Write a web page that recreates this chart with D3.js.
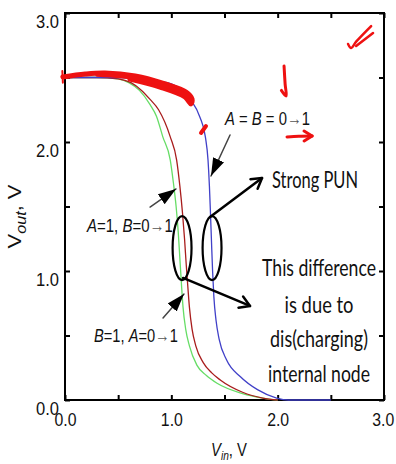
<!DOCTYPE html>
<html>
<head>
<meta charset="utf-8">
<script src="https://cdn.jsdelivr.net/npm/d3@7/dist/d3.min.js"></script>
<style>
  body { margin: 0; background: #fff; }
  text { font-family: 'Liberation Sans', Arial, sans-serif; }
  .callout { font-family: Lato, 'Open Sans', sans-serif; }
</style>
</head>
<body>
<svg id="chart" width="396" height="464"></svg>
<script>
// transfer curves V_out(V_in)
const vinGreen  = [0, 0.3, 0.5, 0.6, 0.7, 0.8, 0.86, 0.92, 0.99, 1.02, 1.045, 1.065, 1.08, 1.095, 1.11, 1.135, 1.17, 1.24, 1.33, 1.43, 1.67, 1.86, 2.0];
const voutGreen = [2.5, 2.5, 2.49, 2.46, 2.4, 2.29, 2.2, 2.04, 1.86, 1.68, 1.5, 1.3, 1.1, 0.9, 0.72, 0.55, 0.42, 0.27, 0.19, 0.13, 0.05, 0.015, 0];
const vinRed    = [0, 0.3, 0.5, 0.62, 0.72, 0.8, 0.88, 0.99, 1.05, 1.08, 1.105, 1.125, 1.14, 1.155, 1.17, 1.195, 1.23, 1.3, 1.38, 1.46, 1.67, 1.86, 2.0];
const voutRed   = [2.5, 2.5, 2.49, 2.46, 2.4, 2.33, 2.25, 2.04, 1.86, 1.66, 1.45, 1.24, 1.05, 0.88, 0.72, 0.55, 0.42, 0.29, 0.21, 0.155, 0.06, 0.015, 0];
const vinBlue   = [0, 0.5, 0.8, 1.0, 1.18, 1.27, 1.32, 1.345, 1.358, 1.368, 1.378, 1.388, 1.4, 1.42, 1.45, 1.52, 1.65, 1.81, 1.99, 2.1, 2.5];
const voutBlue  = [2.5, 2.5, 2.48, 2.45, 2.33, 2.19, 2.04, 1.86, 1.66, 1.45, 1.22, 1.0, 0.8, 0.62, 0.47, 0.31, 0.18, 0.08, 0.015, 0, 0];

const tickValues = [0, 0.5, 1, 1.5, 2, 2.5, 3];
const xTickLabels = ['0.0', '1.0', '2.0', '3.0'];
const yTickLabels = ['0.0', '1.0', '2.0', '3.0'];

const svg = d3.select('#chart');
const width = +svg.attr('width');
const height = +svg.attr('height');
const margin = { top: 13, right: 12, bottom: 64, left: 65 };

const x = d3.scaleLinear().domain([0, 3]).range([margin.left, width - margin.right]);
const y = d3.scaleLinear().domain([0, 3]).range([height - margin.bottom, margin.top]);

svg.append('rect').attr('width', width).attr('height', height).attr('fill', '#fff');

// squeeze a text horizontally to a target width (the slide is compressed sideways)
function squeeze(node, target, x0) {
  const w = node.getComputedTextLength();
  const sx = target / w;
  const prev = node.getAttribute('transform') || '';
  node.setAttribute('transform', `${prev} translate(${x0 * (1 - sx)},0) scale(${sx},1)`);
}

const defs = svg.append('defs');
defs.append('marker')
  .attr('id', 'tri').attr('markerUnits', 'userSpaceOnUse')
  .attr('viewBox', '0 -7 18 14').attr('markerWidth', 18).attr('markerHeight', 14)
  .attr('refX', 18).attr('refY', 0).attr('orient', 'auto')
  .append('path').attr('d', 'M0,-6L18,0L0,6Z').attr('fill', '#000');
defs.append('marker')
  .attr('id', 'chev').attr('markerUnits', 'userSpaceOnUse')
  .attr('viewBox', '-12 -8 14 16').attr('markerWidth', 14).attr('markerHeight', 16)
  .attr('refX', 0).attr('refY', 0).attr('orient', 'auto')
  .append('path').attr('d', 'M-10,-6L0,0L-10,6')
  .attr('fill', 'none').attr('stroke', '#000').attr('stroke-width', 2.5)
  .attr('stroke-linecap', 'round').attr('stroke-linejoin', 'round');
defs.append('marker')
  .attr('id', 'redchev').attr('markerUnits', 'userSpaceOnUse')
  .attr('viewBox', '-12 -8 14 16').attr('markerWidth', 14).attr('markerHeight', 16)
  .attr('refX', 0).attr('refY', 0).attr('orient', 'auto')
  .append('path').attr('d', 'M-8,-5L0,0L-8,5')
  .attr('fill', 'none').attr('stroke', '#ee1111').attr('stroke-width', 3)
  .attr('stroke-linecap', 'round').attr('stroke-linejoin', 'round');

// axes: ticks point inward on all four sides
const fmt = (labels) => (d) => (d % 1 === 0 ? labels[d] : '');

const gBottom = svg.append('g')
  .attr('transform', `translate(0,${y(0)})`)
  .call(d3.axisBottom(x).tickValues(tickValues).tickSizeInner(-5).tickSizeOuter(0)
    .tickPadding(13).tickFormat(fmt(xTickLabels)));
const gLeft = svg.append('g')
  .attr('transform', `translate(${x(0)},0)`)
  .call(d3.axisLeft(y).tickValues(tickValues).tickSizeInner(-5).tickSizeOuter(0)
    .tickPadding(6).tickFormat(fmt(yTickLabels)));
svg.append('g')
  .attr('transform', `translate(0,${y(3)})`)
  .call(d3.axisTop(x).tickValues(tickValues).tickSizeInner(-5).tickSizeOuter(0).tickFormat(''));
svg.append('g')
  .attr('transform', `translate(${x(3)},0)`)
  .call(d3.axisRight(y).tickValues(tickValues).tickSizeInner(-5).tickSizeOuter(0).tickFormat(''));

svg.selectAll('.domain').remove();
svg.selectAll('.tick line').attr('stroke', '#000').attr('stroke-width', 2);
svg.selectAll('.tick text')
  .attr('font-family', "'Liberation Sans', Arial, sans-serif")
  .attr('font-size', 19).attr('fill', '#111');
gLeft.selectAll('.tick text').attr('dy', '0.78em')
  .filter(function () { return this.textContent !== ''; })
  .each(function () { squeeze(this, 23, -6); });
gBottom.selectAll('.tick text')
  .filter(function () { return this.textContent !== ''; })
  .each(function (d) { squeeze(this, 22, 0); });
gBottom.selectAll('.tick').filter((d) => d === 3).select('text').attr('x', -1.5);

svg.append('rect')
  .attr('x', x(0)).attr('y', y(3))
  .attr('width', x(3) - x(0)).attr('height', y(0) - y(3))
  .attr('fill', 'none').attr('stroke', '#000').attr('stroke-width', 2);

// axis titles
const yTitle = svg.append('text')
  .attr('transform', `translate(21,${(y(0) + y(3)) / 2 + 10}) rotate(-90)`)
  .attr('text-anchor', 'middle').attr('font-size', 19).attr('fill', '#111');
yTitle.append('tspan').text('V');
yTitle.append('tspan').attr('font-size', 14).attr('font-style', 'italic').attr('dy', 5).text('out');
yTitle.append('tspan').attr('dy', -5).text(', V');
squeeze(yTitle.node(), 64, 0);

const xTitle = svg.append('text')
  .attr('x', 229).attr('y', 456)
  .attr('text-anchor', 'middle').attr('font-size', 19).attr('fill', '#111');
xTitle.append('tspan').attr('font-style', 'italic').text('V');
xTitle.append('tspan').attr('font-size', 13).attr('font-style', 'italic').attr('dy', 4).text('in');
xTitle.append('tspan').attr('dy', -4).text(', V');
squeeze(xTitle.node(), 36, 229);

// curves
const line = d3.line().x((d) => x(d[0])).y((d) => y(d[1])).curve(d3.curveMonotoneX);
const series = [
  { vin: vinGreen, vout: voutGreen, color: '#66dd66' },
  { vin: vinRed, vout: voutRed, color: '#a81c1c' },
  { vin: vinBlue, vout: voutBlue, color: '#4040c8' },
];
svg.selectAll('.curve')
  .data(series)
  .enter()
  .append('path')
  .attr('class', 'curve')
  .attr('d', (s) => line(s.vin.map((v, i) => [v, s.vout[i]])))
  .attr('fill', 'none')
  .attr('stroke', (s) => s.color)
  .attr('stroke-width', 1.3);

// black annotations
const seg = (from, to, stroke, w, marker) => svg.append('line')
  .attr('x1', x(from[0])).attr('y1', y(from[1])).attr('x2', x(to[0])).attr('y2', y(to[1]))
  .attr('stroke', stroke).attr('stroke-width', w).attr('stroke-linecap', 'round')
  .attr('marker-end', `url(#${marker})`);

seg([1.552, 2.054], [1.373, 1.736], '#444', 1.5, 'tri');
seg([0.80, 1.496], [1.044, 1.636], '#444', 1.5, 'tri');
seg([0.922, 0.636], [1.119, 0.822], '#444', 1.5, 'tri');

const rx = x(0.089) - x(0);
const ry = y(0) - y(0.248);
[[1.101, 1.178], [1.383, 1.178]].forEach(([cx, cy]) => {
  svg.append('ellipse')
    .attr('cx', x(cx)).attr('cy', y(cy)).attr('rx', rx).attr('ry', ry)
    .attr('fill', 'none').attr('stroke', '#000').attr('stroke-width', 2.2);
});
seg([1.364, 1.419], [1.853, 1.721], '#000', 2.5, 'chev');
seg([1.110, 0.946], [1.740, 0.729], '#000', 2.5, 'chev');

const label = (xs, yb, parts, len) => {
  const t = svg.append('text').attr('x', x(xs)).attr('y', y(yb))
    .attr('font-size', 19).attr('fill', '#111');
  parts.forEach(([s, style]) => {
    const ts = t.append('tspan').text(s);
    if (style === 'i') ts.attr('font-style', 'italic');
    if (style === 'a') ts.attr('fill', '#555');
  });
  squeeze(t.node(), len, x(xs));
};
label(1.505, 2.132, [['A', 'i'], [' = ', ''], ['B', 'i'], [' = 0', ''], ['\u2192', 'a'], ['1', '']], 85);
label(0.207, 1.302, [['A', 'i'], ['=1, ', ''], ['B', 'i'], ['=0', ''], ['\u2192', 'a'], ['1', '']], 86);
label(0.273, 0.450, [['B', 'i'], ['=1, ', ''], ['A', 'i'], ['=0', ''], ['\u2192', 'a'], ['1', '']], 84);

const pun = svg.append('text').attr('class', 'callout')
  .attr('x', x(1.947)).attr('y', y(1.643))
  .attr('font-size', 23).attr('fill', '#111')
  .text('Strong PUN');
squeeze(pun.node(), 86, x(1.947));

const noteLines = ['This difference', 'is due to', 'dis(charging)', 'internal node'];
const noteBase = [0.961, 0.674, 0.411, 0.140];
const noteLen = [114, 69, 98, 102];
svg.selectAll('.note')
  .data(noteLines)
  .enter()
  .append('text')
  .attr('class', 'callout note')
  .attr('x', x(2.389)).attr('y', (d, i) => y(noteBase[i]))
  .attr('text-anchor', 'middle').attr('font-size', 23).attr('fill', '#111')
  .text((d) => d)
  .each(function (d, i) { squeeze(this, noteLen[i], x(2.389)); });

// red pen marks
const pen = d3.line().x((d) => x(d[0])).y((d) => y(d[1])).curve(d3.curveCatmullRom);
const redStroke = (pts, w, marker) => {
  const p = svg.append('path').attr('d', pen(pts))
    .attr('fill', 'none').attr('stroke', '#ee1111').attr('stroke-width', w)
    .attr('stroke-linecap', 'round').attr('stroke-linejoin', 'round');
  if (marker) p.attr('marker-end', `url(#${marker})`);
};
redStroke([[-0.02, 2.504], [0.19, 2.527], [0.376, 2.535], [0.659, 2.512], [0.941, 2.45],
  [1.138, 2.388], [1.195, 2.333], [1.185, 2.295], [1.129, 2.349], [0.894, 2.426], [0.611, 2.488]], 5);
redStroke([[0.3, 2.52], [0.7, 2.49], [1.0, 2.42], [1.16, 2.35]], 3.5);
redStroke([[-0.025, 2.55], [-0.02, 2.46]], 2);
redStroke([[1.279, 2.07], [1.326, 2.124]], 4);
redStroke([[2.06, 2.589], [2.07, 2.45], [2.079, 2.357], [2.035, 2.40]], 3);
redStroke([[2.088, 2.039], [2.2, 2.045], [2.324, 2.047]], 3, 'redchev');
redStroke([[2.662, 2.76], [2.69, 2.729], [2.74, 2.78], [2.879, 2.899]], 2.5);
redStroke([[2.738, 2.744], [2.897, 2.845]], 2.5);
</script>
</body>
</html>
